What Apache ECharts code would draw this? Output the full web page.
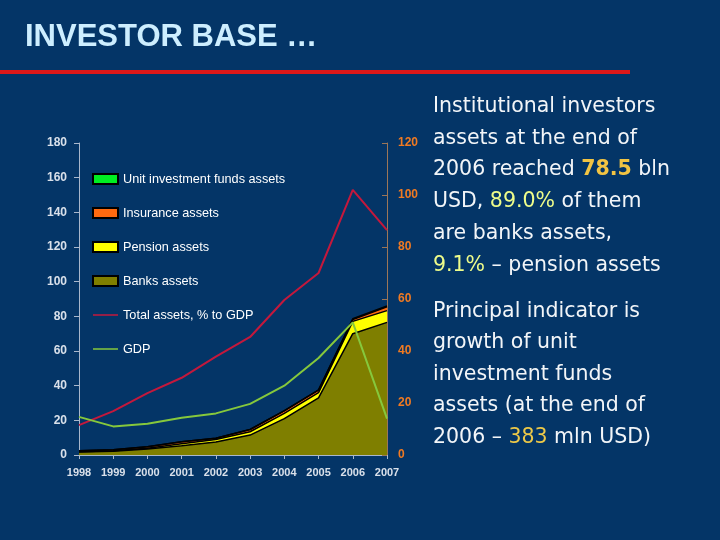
<!DOCTYPE html>
<html>
<head>
<meta charset="utf-8">
<script src="https://cdn.jsdelivr.net/npm/echarts@6/dist/echarts.min.js"></script>
<style>
html,body{margin:0;padding:0;background:#043567;}
#c{width:720px;height:540px;}
</style>
</head>
<body>
<div id="c"></div>
<script>
const years = ['1998','1999','2000','2001','2002','2003','2004','2005','2006','2007'];
const banksAssets = [1.8, 2.2, 3.5, 5.3, 7.5, 11.5, 21, 33, 70, 76.5];
const pensionAssets = [0.1, 0.2, 0.4, 1.2, 1.4, 1.9, 3, 3, 7.1, 6.8];
const insuranceAssets = [0.6, 0.6, 0.8, 1.2, 0.8, 1.3, 1.5, 1.4, 1.1, 2.2];
const unitFundsAssets = [0, 0, 0, 0, 0.02, 0.03, 0.08, 0.15, 0.38, 0.5];
const totalPctGdp = [11.5, 16.9, 23.8, 29.7, 37.8, 45.4, 59.6, 70, 102, 86.5];
const gdp = [22, 16.5, 18, 21.5, 24, 29.5, 40, 56, 76.5, 21];
const leftTicks = [0, 180, 20];
const rightTicks = [0, 120, 20];

const chart = echarts.init(document.getElementById('c'));
const areaSeries = (name, data, color) => ({
  name, type: 'line', stack: 'assets', data, yAxisIndex: 0,
  symbol: 'none', smooth: false,
  lineStyle: { color: '#000', width: 1.5 },
  itemStyle: { color: color, borderColor: '#000', borderWidth: 1 },
  areaStyle: { color: color, opacity: 1 },
  z: 2
});
const txt = '#f2f5f8';
const F = 'DejaVu Sans';
chart.setOption({
  backgroundColor: '#043567',
  animation: false,
  grid: { left: 79, right: 333, top: 143, bottom: 85 },
  legend: {
    orient: 'vertical', left: 87, top: 167, itemGap: 20,
    itemWidth: 25, itemHeight: 10,
    textStyle: { color: '#ffffff', fontSize: 12.7, lineHeight: 14, fontFamily: 'Liberation Sans, Arial' },
    data: [
      { name: 'Unit investment funds assets', icon: 'rect' },
      { name: 'Insurance assets', icon: 'rect' },
      { name: 'Pension assets', icon: 'rect' },
      { name: 'Banks assets', icon: 'rect' },
      { name: 'Total assets, % to GDP', itemStyle: { opacity: 0 }, lineStyle: { width: 1.5 } },
      { name: 'GDP', itemStyle: { opacity: 0 }, lineStyle: { width: 1.5 } }
    ]
  },
  xAxis: {
    type: 'category', data: years, boundaryGap: false,
    axisLine: { lineStyle: { color: '#a9b7cc', width: 1 } },
    axisTick: { show: true, alignWithLabel: true, length: 4, lineStyle: { color: '#a9b7cc' } },
    axisLabel: { color: '#d9e0ea', fontSize: 11, fontWeight: 'bold', margin: 12, fontFamily: 'Liberation Sans, Arial' }
  },
  yAxis: [
    {
      type: 'value', min: leftTicks[0], max: leftTicks[1], interval: leftTicks[2], position: 'left',
      axisLine: { show: true, lineStyle: { color: '#a9b7cc' } },
      axisTick: { show: true, length: 5, lineStyle: { color: '#a9b7cc' } },
      splitLine: { show: false },
      axisLabel: { color: '#d9e0ea', fontSize: 12, fontWeight: 'bold', margin: 12, fontFamily: 'Liberation Sans, Arial' }
    },
    {
      type: 'value', min: rightTicks[0], max: rightTicks[1], interval: rightTicks[2], position: 'right',
      axisLine: { show: true, lineStyle: { color: '#9c7658' } },
      axisTick: { show: true, inside: true, length: 5, lineStyle: { color: '#9c7658' } },
      splitLine: { show: false },
      axisLabel: { color: '#f07a22', fontSize: 12, fontWeight: 'bold', margin: 11, fontFamily: 'Liberation Sans, Arial' }
    }
  ],
  series: [
    areaSeries('Banks assets', banksAssets, '#7f7f00'),
    areaSeries('Pension assets', pensionAssets, '#ffff00'),
    areaSeries('Insurance assets', insuranceAssets, '#ff6a10'),
    areaSeries('Unit investment funds assets', unitFundsAssets, '#00ee22'),
    { name: 'Total assets, % to GDP', type: 'line', yAxisIndex: 1, data: totalPctGdp, symbol: 'none',
      lineStyle: { color: '#c4183c', width: 2 }, itemStyle: { color: '#c4183c' }, z: 5 },
    { name: 'GDP', type: 'line', yAxisIndex: 0, data: gdp, symbol: 'none',
      lineStyle: { color: '#86c83c', width: 2 }, itemStyle: { color: '#86c83c' }, z: 5 }
  ],
  graphic: [
    { type: 'text', left: 25, top: 22,
      style: { text: 'INVESTOR BASE …', fill: '#cdeeff', font: 'bold 31px "Liberation Sans", Arial' } },
    { type: 'rect', shape: { x: 0, y: 70, width: 630, height: 4 }, style: { fill: '#dd1818' } },
    { type: 'text', left: 433, top: 96,
      style: {
        text: '{t|Institutional investors}\n{t|assets at the end of}\n{t|2006 reached }{b|78.5}{t| bln}\n{t|USD, }{g|89.0%}{t| of them}\n{t|are banks assets,}\n{g|9.1%}{t| – pension assets}',
        rich: {
          t: { fill: txt, fontSize: 20.5, fontFamily: F, lineHeight: 31.8 },
          b: { fill: '#f2c443', fontSize: 20.5, fontWeight: 'bold', fontFamily: F, lineHeight: 31.8 },
          g: { fill: '#eefc8a', fontSize: 20.5, fontFamily: F, lineHeight: 31.8 }
        }
      } },
    { type: 'text', left: 433, top: 301,
      style: {
        text: '{t|Principal indicator is}\n{t|growth of unit}\n{t|investment funds}\n{t|assets (at the end of}\n{t|2006 – }{y|383}{t| mln USD)}',
        rich: {
          t: { fill: txt, fontSize: 20.5, fontFamily: F, lineHeight: 31.5 },
          y: { fill: '#ecc848', fontSize: 20.5, fontFamily: F, lineHeight: 31.5 }
        }
      } }
  ]
});
</script>
</body>
</html>
